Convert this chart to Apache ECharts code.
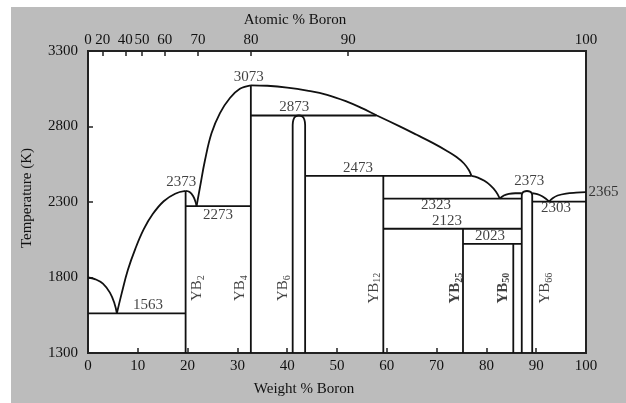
<!DOCTYPE html>
<html>
<head>
<meta charset="utf-8">
<script src="https://cdn.jsdelivr.net/npm/echarts@6/dist/echarts.min.js"></script>
<style>
  html, body { margin: 0; padding: 0; background: #fff; }
  #chart { width: 626px; height: 403px; }
</style>
</head>
<body>
<div id="chart"></div>
<script>
// ---------- Y–B phase diagram data ----------
const FONT = '"Liberation Serif", "Times New Roman", serif';
const INK = '#111111';

// Top axis: atomic % boron, positioned on the weight % scale
const atomicTicks = [0, 20, 40, 50, 60, 70, 80, 90, 100];
const MASS_B = 10.81, MASS_Y = 88.906;
const atToWt = a => 100 * a * MASS_B / (a * MASS_B + (100 - a) * MASS_Y);
const atomicTickWt = atomicTicks.map(atToWt);

// Temperature axis (K)
const tempMin = 1300, tempMax = 3300, tempStep = 500;

// Stoichiometric line compounds: composition (wt % B) and upper temperature (K)
const lineCompoundWt  = [19.6, 32.7, 59.3, 75.3, 85.4];   // YB2, YB4, YB12, YB25, YB50
const lineCompoundTop = [2373, 3073, 2473, 2123, 2023];

// Narrow single-phase fields of YB6 and YB66
const yb6Field = [[41.1, 1300], [41.1, 2810], [41.25, 2845], [41.65, 2866], [42.35, 2873],
                  [43.05, 2866], [43.45, 2845], [43.6, 2810], [43.6, 1300]];
const yb66Field = [[87.1, 1300], [87.1, 2340], [87.2, 2358], [87.55, 2369], [88.15, 2373],
                   [88.75, 2369], [89.1, 2358], [89.2, 2340], [89.2, 1300]];

// Invariant isotherms: [temperature, from wt %, to wt %]
const isotherms = [
  [1563, 0, 19.6],
  [2273, 19.6, 32.7],
  [2873, 32.7, 57.9],
  [2473, 43.6, 77.0],
  [2323, 59.3, 87.1],
  [2123, 59.3, 87.1],
  [2023, 75.3, 87.1],
  [2303, 89.2, 100]
];

// Liquidus / boundary curves: [wt % B, T]
const liqYrich   = [[0, 1800], [1.5, 1788], [3.0, 1760], [4.4, 1700], [5.3, 1630], [5.8, 1563]];
const liqToYB2   = [[5.8, 1563], [6.8, 1700], [8.0, 1850], [9.5, 1990], [11.2, 2120],
                    [13.0, 2220], [15.2, 2305], [17.5, 2355], [19.6, 2373]];
const domeYB2    = [[19.6, 2373], [20.4, 2366], [21.1, 2340], [21.6, 2300], [21.8, 2273]];
const liqToYB4   = [[21.8, 2273], [22.5, 2400], [23.5, 2578], [24.8, 2755], [26.5, 2889],
                    [28.5, 2989], [30.5, 3050], [32.7, 3073]];
const liqYB4on   = [[32.7, 3073], [36, 3070], [40, 3058], [44, 3038], [48, 3010], [52, 2965],
                    [55, 2922], [58, 2873], [62.7, 2799], [66, 2745], [69.3, 2690], [72, 2640],
                    [74, 2598], [75.5, 2555], [76.5, 2510], [77, 2473]];
const liqToDome  = [[77, 2473], [78.3, 2462], [79.6, 2440], [80.8, 2410], [81.9, 2370], [82.7, 2323]];
const domeLeft   = [[82.7, 2323], [83.5, 2343], [84.5, 2354], [85.8, 2358], [87.1, 2358]];
const domeRight  = [[89.2, 2358], [90.2, 2352], [91.2, 2338], [92.0, 2320], [92.6, 2303]];
const liqToBoron = [[92.6, 2303], [93.3, 2325], [94.3, 2343], [96, 2356], [98, 2362], [100, 2365]];

// Temperature labels (values) and where they sit
const tempLabelValues = [1563, 2373, 2273, 3073, 2873, 2473, 2323, 2123, 2023, 2373, 2303, 2365];
const tempLabelWt     = [12.05, 18.7, 26.1, 32.3, 41.4, 54.2, 69.9, 72.1, 80.7, 88.6, 94.0, 100];
const tempLabelDy     = [-8, -9, 9, -8, -8, -8, 7, -8, -7.5, -10, 7, 0];

// Compound labels
const compoundBase = ['YB', 'YB', 'YB', 'YB', 'YB', 'YB', 'YB'];
const compoundSub  = ['2', '4', '6', '12', '25', '50', '66'];
const compoundBold = [false, false, false, false, true, true, false];
const compoundLabelWt = [21.9, 30.5, 39.2, 57.4, 73.7, 83.3, 91.8];
const compoundLabelT  = 1730;

// ---------- series ----------
function curve(points, smooth) {
  return {
    type: 'line', data: points, smooth: smooth, symbol: 'none', silent: true,
    lineStyle: { color: INK, width: 1.8 }, z: 3
  };
}

const series = [];
[liqYrich, liqToYB2, domeYB2, liqToYB4, liqYB4on, liqToDome, domeLeft, domeRight, liqToBoron]
  .forEach(c => series.push(curve(c, 0.4)));
series.push(curve(yb6Field, 0.4));
series.push(curve(yb66Field, 0.4));
isotherms.forEach(([t, a, b]) => series.push(curve([[a, t], [b, t]], false)));
lineCompoundWt.forEach((w, i) => series.push(curve([[w, tempMin], [w, lineCompoundTop[i]]], false)));

const plainText = { fontFamily: FONT, fontSize: 15, color: INK, textBorderWidth: 0, textShadowBlur: 0 };

// temperature labels
series.push({
  type: 'scatter', symbolSize: 1, silent: true, clip: false, z: 5,
  itemStyle: { color: 'rgba(0,0,0,0)' },
  data: tempLabelValues.map((t, i) => {
    const last = i === tempLabelValues.length - 1;
    return {
      value: [tempLabelWt[i], t],
      label: last ? { position: 'right', distance: 2, offset: [0, 0] } : { offset: [0, tempLabelDy[i]] }
    };
  }),
  label: Object.assign({
    show: true, position: 'inside',
    formatter: p => String(p.value[1])
  }, plainText)
});

// compound labels, rotated
const richBase = { fontFamily: FONT, color: INK, lineHeight: 18, textBorderWidth: 0 };
series.push({
  type: 'scatter', symbolSize: 1, silent: true, z: 5,
  itemStyle: { color: 'rgba(0,0,0,0)' },
  data: compoundSub.map((s, i) => ({
    value: [compoundLabelWt[i], compoundLabelT],
    label: {
      formatter: compoundBold[i] ? '{mb|' + compoundBase[i] + '}{sb|' + s + '}'
                                 : '{m|' + compoundBase[i] + '}{s|' + s + '}'
    }
  })),
  label: {
    show: true, position: 'inside', rotate: 90, color: INK, textBorderWidth: 0,
    rich: {
      m:  Object.assign({ fontSize: 15 }, richBase),
      s:  Object.assign({ fontSize: 10, verticalAlign: 'bottom' }, richBase),
      mb: Object.assign({ fontSize: 15, fontWeight: 'bold' }, richBase),
      sb: Object.assign({ fontSize: 10, verticalAlign: 'bottom', fontWeight: 'bold' }, richBase)
    }
  }
});

const tickStyle = { color: '#222', width: 1.5 };
const axisText = { fontFamily: FONT, fontSize: 15, color: INK };

const option = {
  backgroundColor: '#bcbcbc',
  animation: false,
  grid: {
    left: 88, right: 40, top: 51, bottom: 50,
    show: true, backgroundColor: '#ffffff', borderColor: '#222', borderWidth: 2
  },
  xAxis: [
    {
      type: 'value', min: 0, max: 100, interval: 10, position: 'bottom',
      axisLine: { show: false }, splitLine: { show: false },
      axisTick: { show: true, inside: true, length: 5, lineStyle: tickStyle },
      axisLabel: Object.assign({ margin: 6, formatter: v => String(v) }, axisText)
    },
    {
      type: 'value', min: 0, max: 100, position: 'top',
      axisLine: { show: false }, splitLine: { show: false },
      axisTick: { show: true, inside: true, length: 5, lineStyle: tickStyle, customValues: atomicTickWt },
      axisLabel: Object.assign({
        margin: 3, customValues: atomicTickWt,
        formatter: v => {
          const i = atomicTickWt.findIndex(w => Math.abs(w - v) < 1e-6);
          return i >= 0 ? String(atomicTicks[i]) : '';
        }
      }, axisText)
    }
  ],
  yAxis: {
    type: 'value', min: tempMin, max: tempMax, interval: tempStep,
    axisLine: { show: false }, splitLine: { show: false },
    axisTick: { show: true, inside: true, length: 5, lineStyle: tickStyle },
    axisLabel: Object.assign({ margin: 10, formatter: v => String(v) }, axisText)
  },
  graphic: [
    { type: 'rect', shape: { x: 0, y: 0, width: 626, height: 7 }, style: { fill: '#fff' }, silent: true },
    { type: 'rect', shape: { x: 0, y: 0, width: 11, height: 403 }, style: { fill: '#fff' }, silent: true },
    { type: 'text', x: 295, y: 20, silent: true,
      style: { text: 'Atomic % Boron', font: '15px ' + FONT, fill: INK, textAlign: 'center', textVerticalAlign: 'middle' } },
    { type: 'text', x: 304, y: 389, silent: true,
      style: { text: 'Weight % Boron', font: '15px ' + FONT, fill: INK, textAlign: 'center', textVerticalAlign: 'middle' } },
    { type: 'text', x: 27, y: 198, rotation: Math.PI / 2, silent: true,
      style: { text: 'Temperature (K)', font: '15px ' + FONT, fill: INK, textAlign: 'center', textVerticalAlign: 'middle' } }
  ],
  series: series
};

const chart = echarts.init(document.getElementById('chart'), null, { renderer: 'canvas' });
chart.setOption(option);
</script>
</body>
</html>
